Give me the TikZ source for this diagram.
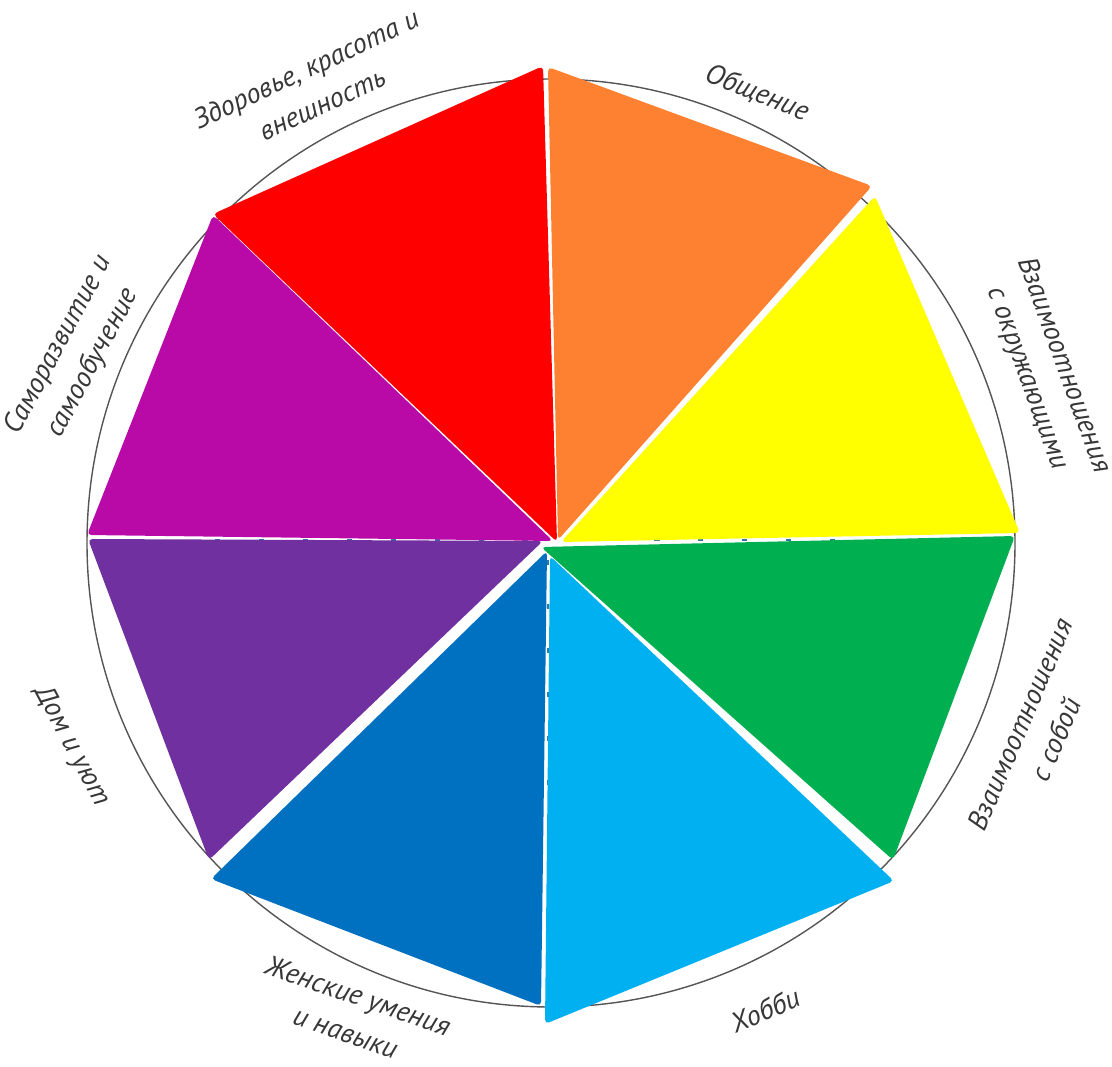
\documentclass[tikz,border=0pt]{standalone}
\usepackage{fontspec}
\setmainfont{PT Sans}
\usepackage{tikz}
\usetikzlibrary{calc}

\definecolor{wRed}{RGB}{255,0,0}
\definecolor{wOrange}{RGB}{254,129,50}
\definecolor{wYellow}{RGB}{255,255,0}
\definecolor{wGreen}{RGB}{0,175,80}
\definecolor{wSky}{RGB}{0,176,240}
\definecolor{wBlue}{RGB}{0,112,192}
\definecolor{wViolet}{RGB}{112,48,160}
\definecolor{wMagenta}{RGB}{185,10,168}
\definecolor{wText}{RGB}{55,55,55}
\definecolor{wRim}{RGB}{85,85,85}

\begin{document}
\begin{tikzpicture}[x=0.02cm, y=-0.02cm,
    sector/.style={rounded corners=2.5pt},
    lbl/.style={font=\fontsize{16}{22}\selectfont\itshape, text=wText, align=center, inner sep=0pt},
    rim/.style={draw=wRim, line width=0.8pt},
    seam/.style={draw=wBlue!60!gray, line width=1.2pt, dash pattern=on 3pt off 22pt}]
          \useasboundingbox (0,0) rectangle (1112,1067);

          % outer circle
          \draw[rim] (551,543) circle (464);

          % seams between sectors
          \draw[seam] (215,540) -- (845,540);
          \draw[seam] (548,560) -- (548,810);

          % sectors
          \fill[wRed, sector] (557,542) -- (543,66) -- (213,214) -- cycle;
          \fill[wOrange, sector] (558,540) -- (548,67) -- (872,186) -- cycle;
          \fill[wYellow, sector] (561,542) -- (875,196) -- (1020,533) -- cycle;
          \fill[wGreen, sector] (541,547) -- (1015,536) -- (893,860) -- cycle;
          \fill[wSky, sector] (550,556) -- (894,881) -- (545,1024) -- cycle;
          \fill[wBlue, sector] (547,551) -- (541,1006) -- (211,879) -- cycle;
          \fill[wViolet, sector] (543,541) -- (209,860) -- (88,539) -- cycle;
          \fill[wMagenta, sector] (553,541) -- (87,535) -- (213,215) -- cycle;

          % labels
          \node[lbl, rotate=25] (health) at (314,86) {Здоровье, красота и\\внешность};
          \node[lbl, rotate=-22] (talk) at (757,93) {Общение};
          \node[lbl, rotate=-70] (others) at (1045,372) {Взаимоотношения\\с окружающими};
          \node[lbl, rotate=67] (self) at (1038,732) {Взаимоотношения\\с собой};
          \node[lbl, rotate=23] (hobby) at (765,1010) {Хобби};
          \node[lbl, rotate=-19] (skills) at (352,1014) {Женские умения\\и навыки};
          \node[lbl, rotate=-62] (home) at (72,746) {Дом и уют};
          \node[lbl, rotate=62] (growth) at (76,354) {Саморазвитие и\\самообучение};
        \end{tikzpicture}
\end{document}
